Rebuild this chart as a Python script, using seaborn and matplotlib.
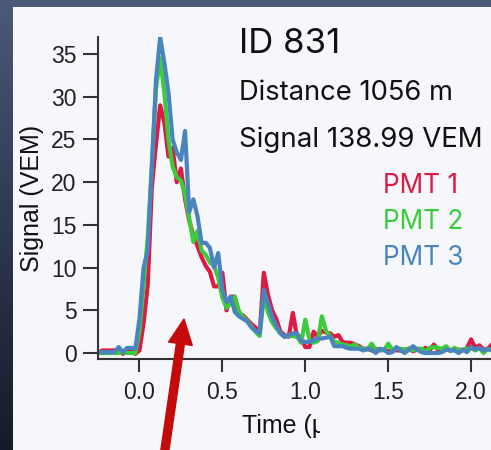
import numpy as np
import pandas as pd
import matplotlib
matplotlib.use("Agg")
import matplotlib.pyplot as plt
from matplotlib.patches import Rectangle, FancyArrow
from matplotlib.transforms import Bbox
import seaborn as sns

# FADC trace sampled every 25 ns, starting 0.25 us before the trigger
time_us = np.round(-0.25 + 0.025 * np.arange(96), 3)

pmt1 = [0.0, 0.3, 0.3, 0.3, 0.3, 0.3, -0.1, 0.3, 0.3, -0.1,
        0.3, 3.5, 8.0, 19.5, 24.5, 29.0, 27.0, 23.0, 24.0, 20.0,
        21.6, 18.0, 15.5, 13.8, 12.5, 11.2, 10.2, 9.5, 7.8, 7.8,
        9.4, 5.0, 6.6, 6.6, 4.4, 4.4, 3.9, 3.4, 3.0, 2.3,
        9.4, 6.8, 5.0, 4.0, 2.5, 2.1, 1.9, 4.7, 1.9, 1.9,
        0.7, 0.7, 2.5, 1.9, 2.6, 2.4, 2.3, 1.9, 2.1, 1.3,
        1.2, 1.2, 1.0, 0.8, 0.5, 0.5, 0.3, 0.5, 0.3, 0.4,
        0.2, 0.4, 0.3, 0.3, 0.4, 0.5, 0.2, 0.4, 0.3, 0.6,
        0.3, 1.0, 0.4, 0.3, 0.4, 0.3, 0.5, 0.4, 0.3, 0.6,
        1.6, 0.6, 0.9, 0.4, 0.5, 1.0]

pmt2 = [0.0, 0.0, 0.0, 0.0, 0.0, 0.0, 0.1, 0.0, 0.0, 0.0,
        2.5, 8.0, 13.5, 22.0, 31.0, 34.5, 30.5, 25.0, 21.8, 20.6,
        20.2, 18.5, 15.8, 13.0, 14.3, 12.0, 11.5, 10.6, 10.2, 8.8,
        6.5, 5.3, 5.8, 6.6, 4.9, 4.2, 3.8, 3.1, 2.5, 2.0,
        6.6, 4.8, 3.6, 2.9, 2.3, 1.9, 2.0, 2.0, 1.9, 1.2,
        3.9, 1.6, 1.2, 1.4, 4.3, 2.6, 2.0, 1.3, 1.2, 1.0,
        0.9, 0.8, 1.0, 0.6, 0.5, 0.4, 1.1, 0.3, 0.4, 0.3,
        1.1, 0.4, 0.5, 0.5, 0.4, 0.5, 0.3, 0.5, 0.5, 0.2,
        0.6, 0.7, 0.6, 0.5, 0.8, 0.2, 0.6, 0.3, 0.4, 0.5,
        0.6, 0.3, 0.6, 0.0, 0.5, 0.3]

pmt3 = [0.1, 0.1, 0.1, 0.1, 0.1, 0.7, 0.1, 0.6, 0.6, 0.5,
        4.0, 10.0, 12.0, 22.0, 32.0, 37.0, 34.0, 30.5, 25.0, 23.5,
        22.6, 26.0, 16.5, 18.0, 16.0, 12.9, 12.9, 12.3, 10.0, 11.7,
        7.4, 6.0, 6.6, 4.8, 4.3, 4.0, 3.7, 3.0, 2.6, 2.3,
        7.4, 5.8, 4.2, 3.2, 2.3, 1.9, 2.1, 2.3, 2.3, 1.4,
        1.3, 1.3, 1.5, 1.7, 1.7, 1.8, 1.9, 0.8, 0.8, 0.8,
        0.6, 0.5, 0.5, 0.5, 0.3, 0.5, 0.4, 0.0, 0.5, 0.4,
        0.0, 0.1, 0.7, 0.3, 0.0, 0.4, 0.8, 0.4, 0.1, 0.0,
        0.0, 0.0, 0.0, 0.1, 0.4, 0.3, 0.3, 0.0, 0.4, 0.1,
        0.7, 0.4, 0.6, 0.3, 0.4, 0.4]

pmt_names = ["PMT 1", "PMT 2", "PMT 3"]
pmt_colors = ["#DC1A44", "#3BCB3B", "#4A84BE"]
x_ticks = [0.0, 0.5, 1.0, 1.5, 2.0]
y_ticks = [0, 5, 10, 15, 20, 25, 30, 35]

station_id = "ID 831"
distance_text = "Distance 1056 m"
signal_text = "Signal 138.99 VEM"

df = pd.concat(
    [pd.DataFrame({"time": time_us, "signal": vals, "pmt": name})
     for name, vals in zip(pmt_names, [pmt1, pmt2, pmt3])],
    ignore_index=True,
)

sns.set_style("ticks")
plt.rcParams["font.family"] = ["Liberation Sans", "DejaVu Sans"]

W, H = 491, 450
fig = plt.figure(figsize=(W / 100, H / 100), dpi=100)
fig.patch.set_facecolor("#2A3244")

# backdrop: dark gradient strip behind the panel
bg = fig.add_axes([0, 0, 1, 1], zorder=-10)
grad = np.linspace(0, 1, 256)[:, None]
bg.imshow(grad, aspect="auto", cmap=matplotlib.colors.LinearSegmentedColormap.from_list(
    "bg", ["#4B5A78", "#2E3850", "#151B28"]), extent=[0, 1, 0, 1])
bg.set_axis_off()
fig.add_artist(Rectangle((13 / W, 0), 1 - 13 / W, 1 - 7 / H, transform=fig.transFigure,
                         facecolor="#F5F7FA", edgecolor="none", zorder=-5))

ax = fig.add_axes([98 / W, 91 / H, (W - 98) / W, 322 / H])
ax.set_facecolor("none")

sns.lineplot(data=df, x="time", y="signal", hue="pmt", hue_order=pmt_names,
             palette=pmt_colors, linewidth=3.0, legend=False, ax=ax)

ax.set_xlim(-0.25, 2.12)
ax.set_ylim(-0.7, 37.0)
ax.set_xticks(x_ticks)
ax.set_xticklabels([f"{t:.1f}" for t in x_ticks])
ax.set_yticks(y_ticks)
sns.despine(ax=ax)
for side in ["left", "bottom"]:
    ax.spines[side].set_color("#333333")
    ax.spines[side].set_linewidth(1.5)
ax.tick_params(axis="y", length=10.5, width=1.5, color="#333333", pad=5,
               labelsize=16.5, labelcolor="#222222")
ax.tick_params(axis="x", length=9, width=1.5, color="#333333", pad=6.5,
               labelsize=16.5, labelcolor="#222222")
ax.set_ylabel("Signal (VEM)", fontsize=18, color="#111111", labelpad=5)
ax.set_xlabel("")

xl = fig.text(242 / W, 1 - 433 / H, "Time (μs)", fontsize=18, color="#111111",
              ha="left", va="baseline")
xl.set_clip_box(Bbox([[0, 0], [320, H]]))
xl.set_clip_on(True)

txt_font = ["Inter", "DejaVu Sans"]
fig.text(239 / W, 1 - 53 / H, station_id, fontsize=25, family=txt_font,
         color="#111111", va="baseline")
fig.text(239 / W, 1 - 100 / H, distance_text, fontsize=19.7, family=txt_font,
         color="#111111", va="baseline")
fig.text(239 / W, 1 - 147 / H, signal_text, fontsize=19.9, family=txt_font,
         color="#111111", va="baseline")
for i, (name, col) in enumerate(zip(pmt_names, pmt_colors)):
    fig.text(383 / W, 1 - (193 + 36 * i) / H, name, fontsize=18.8, family=txt_font,
             color=col, va="baseline")

# pointer arrow
fig.add_artist(FancyArrow(1.645, -0.03, 0.195, 1.34, width=0.08, head_width=0.24,
                          head_length=0.25, length_includes_head=True,
                          transform=fig.dpi_scale_trans, color="#C40A0A", zorder=10))

fig.savefig("out.png", dpi=100)
